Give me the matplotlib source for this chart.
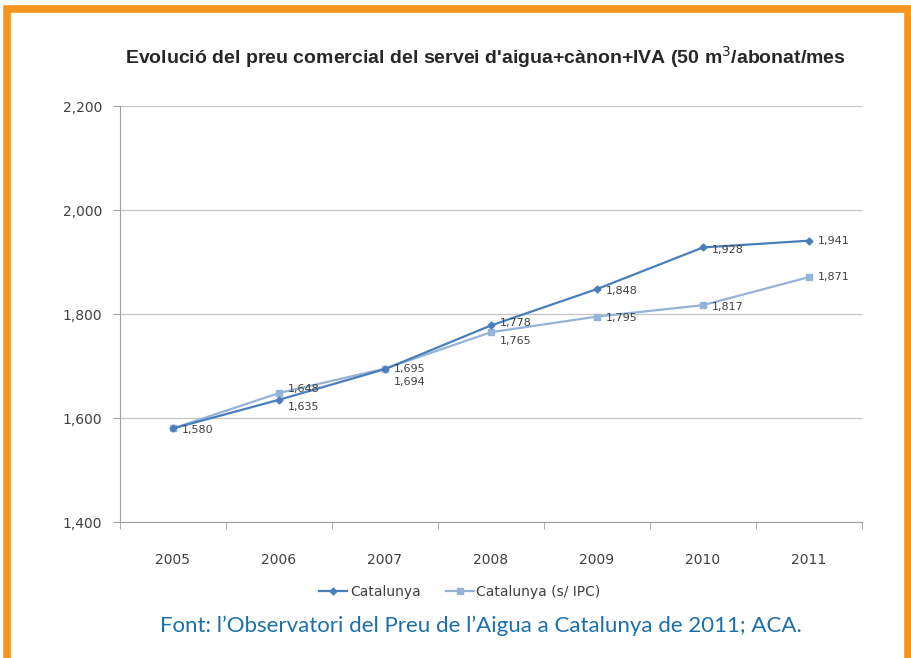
import numpy as np
import matplotlib.pyplot as plt
from matplotlib.patches import Rectangle

years = ['2005', '2006', '2007', '2008', '2009', '2010', '2011']
catalunya = [1580, 1635, 1694, 1778, 1848, 1928, 1941]
catalunya_ipc = [1580, 1648, 1695, 1765, 1795, 1817, 1871]
y_ticks = [1400, 1600, 1800, 2000, 2200]

# vertical nudge of the data labels (points), as placed in the original
cat_label_dy = [-1.5, -5, -9.5, 2, -1.5, -1.5, 0]
ipc_label_dy = [-1.5, 3, 0, -6, -1, -1.5, 0]

dark_blue = '#4a7ebb'
light_blue = '#95b3d7'
text_gray = '#404040'


def fmt(v):
    return f'{v:,}'


fig = plt.figure(figsize=(9.12, 6.58), dpi=100)
fig.patch.set_facecolor('white')

# orange frame (bottom edge is cut off in the source)
frame = Rectangle((7 / 912, -0.05), 901 / 912, 1 - 8.5 / 658 + 0.05,
                  transform=fig.transFigure, fill=False,
                  edgecolor='#f7941d', linewidth=5.5)
fig.patches.append(frame)

ax = fig.add_axes([120 / 912, 1 - 522 / 658, 742 / 912, 416 / 658])
x = np.arange(len(years))

ax.plot(x, catalunya, color=dark_blue, lw=1.6, marker='D', ms=3.5,
        label='Catalunya', zorder=3)
ax.plot(x, catalunya_ipc, color=light_blue, lw=1.6, marker='s', ms=5,
        label='Catalunya (s/ IPC)', zorder=2)

for i, v in enumerate(catalunya):
    ax.annotate(fmt(v), (x[i], v), xytext=(6, cat_label_dy[i]),
                textcoords='offset points', fontsize=8, color=text_gray,
                va='center', ha='left')
for i, v in enumerate(catalunya_ipc):
    if i == 0:
        continue  # same value as Catalunya, one label in the original
    ax.annotate(fmt(v), (x[i], v), xytext=(6, ipc_label_dy[i]),
                textcoords='offset points', fontsize=8, color=text_gray,
                va='center', ha='left')

ax.set_xlim(-0.5, len(years) - 0.5)
ax.set_ylim(1400, 2200)
ax.set_yticks(y_ticks)
ax.set_yticklabels([fmt(v) for v in y_ticks], fontsize=10, color=text_gray)
ax.set_xticks(x)
ax.set_xticklabels(years, fontsize=10, color=text_gray)
ax.set_xticks(np.arange(len(years) + 1) - 0.5, minor=True)
ax.tick_params(axis='x', which='major', length=0, pad=22)
ax.tick_params(axis='x', which='minor', length=5, color='#a0a0a0')
ax.tick_params(axis='y', length=5, color='#a0a0a0', pad=8)

ax.grid(axis='y', color='#c8c8c8', lw=1)
ax.set_axisbelow(True)
for s in ['top', 'right']:
    ax.spines[s].set_visible(False)
for s in ['left', 'bottom']:
    ax.spines[s].set_color('#a0a0a0')

fig.text(125 / 912, 1 - 57 / 658,
         "Evolució del preu comercial del servei d'aigua+cànon+IVA (50 m$^{3}$/abonat/mes",
         fontsize=14, fontweight='bold', color='#262626', va='center', ha='left',
         family='Liberation Sans')

ax.legend(loc='center', bbox_to_anchor=(460 / 912, 1 - 592 / 658),
          bbox_transform=fig.transFigure, ncol=2, frameon=False,
          fontsize=10, handlelength=2.0, columnspacing=1.8, handletextpad=0.2,
          labelcolor=text_gray)

fig.text(481 / 912, 1 - 626 / 658,
         "Font: l\u2019Observatori del Preu de l\u2019Aigua a Catalunya de 2011; ACA.",
         fontsize=16, color='#1b6fae', ha='center', va='center',
         family='Lato')

fig.savefig('out.png', dpi=100)
